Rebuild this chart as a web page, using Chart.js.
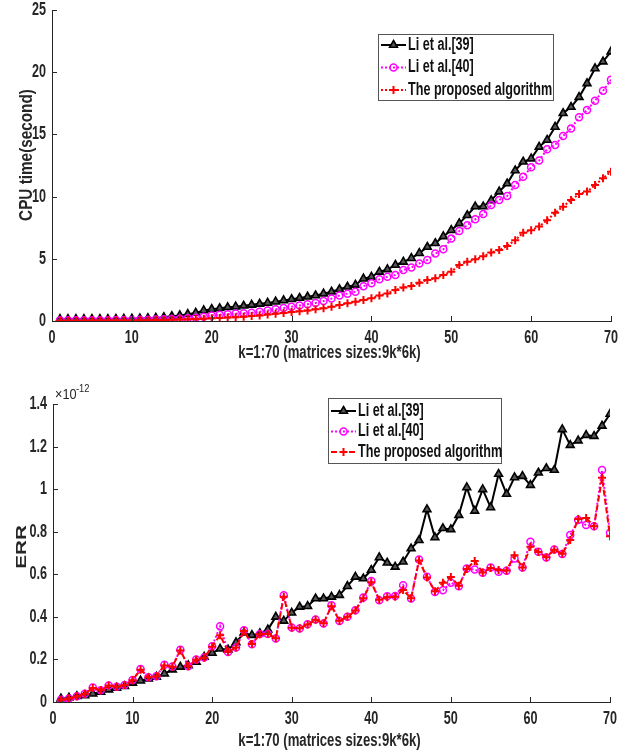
<!DOCTYPE html>
<html>
<head>
<meta charset="utf-8">
<script src="https://cdn.jsdelivr.net/npm/chart.js@4.4.1/dist/chart.umd.min.js"></script>
<style>
    html, body { margin: 0; padding: 0; background: #fff; }
    #wrap { position: relative; width: 638px; height: 753px; overflow: hidden; }
    canvas { position: absolute; left: 0; }
</style>
</head>
<body>
<div id="wrap">
    <canvas id="cpuChart" width="638" height="372" style="top:0px"></canvas>
    <canvas id="errChart" width="638" height="381" style="top:372px"></canvas>
</div>
<script>
// k = 1..70
const kValues = Array.from({ length: 70 }, (_, i) => i + 1);
const xTicks = [0, 10, 20, 30, 40, 50, 60, 70];
const cpuTicks = [0, 5, 10, 15, 20, 25];
const errTicks = [0, 0.2, 0.4, 0.6, 0.8, 1, 1.2, 1.4];
const seriesNames = ['Li et al.[39]', 'Li et al.[40]', 'The proposed algorithm'];
const xTitle = 'k=1:70 (matrices sizes:9k*6k)';

// CPU time (second)
const cpuLi39 = [
    0.15, 0.15, 0.15, 0.15, 0.15, 0.15, 0.15, 0.16, 0.17, 0.18,
    0.2, 0.22, 0.25, 0.3, 0.38, 0.45, 0.55, 0.65, 0.85, 0.95,
    1.02, 1.1, 1.15, 1.22, 1.3, 1.38, 1.45, 1.55, 1.65, 1.75,
    1.85, 1.95, 2.05, 2.2, 2.35, 2.55, 2.75, 2.9, 3.4, 3.55,
    3.95, 4.15, 4.5, 4.75, 5.05, 5.45, 5.95, 6.25, 6.8, 7.3,
    7.85, 8.5, 9.2, 9.2, 9.7, 10.4, 11.05, 12.1, 12.8, 13.05,
    14.0, 14.55, 15.6, 16.7, 17.2, 18.0, 19.1, 20.3, 20.85, 21.65
];
const cpuLi40 = [
    0.06, 0.06, 0.06, 0.06, 0.07, 0.07, 0.07, 0.08, 0.08, 0.09,
    0.1, 0.11, 0.12, 0.14, 0.16, 0.18, 0.22, 0.26, 0.35, 0.45,
    0.5, 0.55, 0.6, 0.63, 0.67, 0.75, 0.85, 0.95, 1.05, 1.15,
    1.25, 1.35, 1.45, 1.6, 1.8, 2.05, 2.2, 2.35, 2.8, 3.03,
    3.35, 3.55, 3.7, 4.1, 4.3, 4.63, 4.9, 5.43, 5.76, 6.64,
    7.23, 7.7, 8.17, 8.6, 9.32, 9.73, 10.05, 10.93, 11.6, 12.35,
    12.9, 13.8, 14.15, 14.87, 15.48, 16.37, 16.96, 17.7, 18.5, 19.4
];
const cpuProposed = [
    0.03, 0.03, 0.03, 0.03, 0.04, 0.04, 0.04, 0.05, 0.05, 0.05,
    0.06, 0.07, 0.08, 0.09, 0.1, 0.12, 0.14, 0.16, 0.19, 0.22,
    0.25, 0.28, 0.31, 0.35, 0.4, 0.45, 0.52, 0.58, 0.65, 0.72,
    0.78, 0.85, 0.94, 1.02, 1.15, 1.29, 1.42, 1.55, 1.69, 1.82,
    2.04, 2.22, 2.5, 2.7, 2.81, 3.08, 3.3, 3.43, 3.7, 3.96,
    4.5, 4.77, 4.96, 5.2, 5.5, 5.7, 6.03, 6.5, 7.1, 7.3,
    7.6, 8.1, 8.7, 9.19, 9.73, 10.2, 10.4, 10.93, 11.47, 12.0
];

// ERR, in units of 1e-12
const errLi39 = [
    0.016, 0.02, 0.027, 0.031, 0.039, 0.047, 0.058, 0.066, 0.074, 0.09,
    0.1, 0.11, 0.118, 0.133, 0.152, 0.165, 0.172, 0.188, 0.212, 0.23,
    0.25, 0.246, 0.28, 0.325, 0.314, 0.322, 0.34, 0.4, 0.381, 0.419,
    0.447, 0.45, 0.486, 0.486, 0.494, 0.502, 0.544, 0.588, 0.58, 0.62,
    0.679, 0.654, 0.635, 0.659, 0.721, 0.76, 0.905, 0.773, 0.816, 0.811,
    0.878, 1.008, 0.898, 0.999, 0.914, 1.071, 0.977, 1.055, 1.061, 1.019,
    1.077, 1.098, 1.09, 1.281, 1.207, 1.228, 1.254, 1.249, 1.297, 1.353
];
const errLi40 = [
    0.01, 0.016, 0.027, 0.039, 0.068, 0.055, 0.078, 0.072, 0.08, 0.103,
    0.155, 0.116, 0.121, 0.175, 0.167, 0.246, 0.168, 0.2, 0.209, 0.262,
    0.356, 0.235, 0.256, 0.337, 0.271, 0.32, 0.32, 0.298, 0.502, 0.35,
    0.345, 0.365, 0.388, 0.369, 0.455, 0.381, 0.4, 0.431, 0.491, 0.569,
    0.478, 0.497, 0.498, 0.549, 0.486, 0.67, 0.588, 0.517, 0.525, 0.56,
    0.544, 0.627, 0.622, 0.607, 0.632, 0.612, 0.617, 0.674, 0.632, 0.753,
    0.706, 0.679, 0.717, 0.695, 0.784, 0.855, 0.831, 0.826, 1.09, 0.795
];
const errProposed = [
    0.01, 0.016, 0.027, 0.039, 0.066, 0.055, 0.077, 0.072, 0.08, 0.102,
    0.152, 0.116, 0.121, 0.172, 0.166, 0.242, 0.168, 0.199, 0.208, 0.26,
    0.314, 0.236, 0.256, 0.333, 0.272, 0.318, 0.32, 0.299, 0.495, 0.349,
    0.346, 0.364, 0.386, 0.37, 0.45, 0.382, 0.4, 0.43, 0.488, 0.562,
    0.48, 0.492, 0.495, 0.526, 0.487, 0.665, 0.585, 0.52, 0.56, 0.587,
    0.546, 0.625, 0.663, 0.608, 0.63, 0.62, 0.618, 0.69, 0.632, 0.729,
    0.705, 0.68, 0.715, 0.696, 0.761, 0.86, 0.864, 0.826, 1.053, 0.779
];

const FONT = "'Liberation Sans', Arial, sans-serif";
const AXIS = '#262626';
const SQUISH = 0.7;   // the original figure text is very condensed

// draw text squeezed horizontally (rotated: len along the text, thick across it)
function narrowText(ctx, text, x, y, o) {
    ctx.save();
    ctx.translate(x, y);
    ctx.font = (o.weight || 'bold') + ' ' + o.size + 'px ' + FONT;
    ctx.fillStyle = o.color || AXIS;
    ctx.textAlign = o.align || 'center';
    ctx.textBaseline = 'middle';
    if (o.rotate) {
        ctx.rotate(-Math.PI / 2);
        ctx.scale(o.len || 1, o.thick || 1);
    } else {
        ctx.scale(o.sx || SQUISH, 1);
    }
    ctx.fillText(text, 0, 0);
    ctx.restore();
}

// MATLAB style axes: inward ticks, labels and titles
const matlabAxes = {
    id: 'matlabAxes',
    afterDraw(chart, args, opts) {
        const { ctx, chartArea: a, scales } = chart;
        ctx.save();
        ctx.strokeStyle = AXIS;
        ctx.lineWidth = 1;
        ctx.beginPath();
        scales.x.ticks.forEach(t => {
            const px = Math.round(scales.x.getPixelForValue(t.value)) + 0.5;
            ctx.moveTo(px, a.bottom);
            ctx.lineTo(px, a.bottom - 5);
        });
        scales.y.ticks.forEach(t => {
            const py = Math.round(scales.y.getPixelForValue(t.value)) + 0.5;
            ctx.moveTo(a.left, py);
            ctx.lineTo(a.left + 5, py);
        });
        ctx.stroke();
        ctx.restore();

        scales.x.ticks.forEach(t => {
            narrowText(ctx, String(t.value), scales.x.getPixelForValue(t.value), a.bottom + opts.xLabelGap, { size: 18 });
        });
        scales.y.ticks.forEach(t => {
            narrowText(ctx, String(t.value), a.left - 6, scales.y.getPixelForValue(t.value), { size: 18, align: 'right' });
        });
        narrowText(ctx, xTitle, (a.left + a.right) / 2 - 2, a.bottom + opts.xTitleGap, { size: 18, sx: 0.73 });
        narrowText(ctx, opts.yTitle, opts.yTitleX, opts.yTitleY, {
            size: 18, rotate: true, len: opts.yTitleLen, thick: opts.yTitleThick
        });
        if (opts.exponent) {
            narrowText(ctx, '\u00d710', a.left + 2, a.top - 9, { size: 15, weight: 'normal', align: 'left', sx: 0.85 });
            narrowText(ctx, '-12', a.left + 23, a.top - 15, { size: 11, weight: 'normal', align: 'left', sx: 0.85 });
        }
    }
};

// boxed legend drawn at a fixed place inside the axes
const boxLegend = {
    id: 'boxLegend',
    afterDraw(chart, args, opts) {
        const { ctx } = chart;
        const { x, y, w, h, rowH, firstRow } = opts;
        ctx.save();
        ctx.fillStyle = '#fff';
        ctx.fillRect(x, y, w, h);
        ctx.strokeStyle = '#555';
        ctx.lineWidth = 1;
        ctx.strokeRect(x + 0.5, y + 0.5, w, h);
        const sorted = [...chart.data.datasets].sort((p, q) => p.legendIndex - q.legendIndex);
        sorted.forEach((ds, i) => {
            const cy = y + firstRow + i * rowH;
            ctx.save();
            ctx.strokeStyle = ds.borderColor;
            ctx.lineWidth = ds.borderWidth;
            ctx.setLineDash(ds.borderDash || []);
            ctx.beginPath();
            ctx.moveTo(x + 3, cy);
            ctx.lineTo(x + 28, cy);
            ctx.stroke();
            ctx.setLineDash([]);
            ctx.fillStyle = ds.pointBackgroundColor;
            ctx.strokeStyle = ds.pointBorderColor;
            ctx.lineWidth = ds.pointBorderWidth;
            Chart.helpers.drawPoint(ctx, {
                pointStyle: ds.pointStyle, radius: ds.pointRadius,
                borderWidth: ds.pointBorderWidth, rotation: 0
            }, x + 15.5, cy);
            ctx.restore();
            narrowText(ctx, ds.label, x + 30, cy, { size: 18, align: 'left', color: '#111' });
        });
        ctx.restore();
    }
};

function lineDataset(label, data, style, legendIndex, order) {
    return Object.assign({
        label, data, legendIndex, order,
        fill: false, tension: 0, borderWidth: 2,
        pointHoverRadius: 0
    }, style);
}

const styleLi39 = {
    borderColor: '#000', pointStyle: 'triangle', pointRadius: 4.5,
    pointBorderColor: '#000', pointBackgroundColor: '#555', pointBorderWidth: 1.6
};
const styleLi40 = {
    borderColor: '#ff00ff', borderDash: [2, 2], pointStyle: 'circle', pointRadius: 3.5,
    pointBorderColor: '#ff00ff', pointBackgroundColor: 'rgba(255,255,255,0)', pointBorderWidth: 1.5
};
const styleProposedDot = {
    borderColor: '#ff0000', borderDash: [2, 2], pointStyle: 'cross', pointRadius: 4,
    pointBorderColor: '#ff0000', pointBackgroundColor: '#ff0000', pointBorderWidth: 2
};
const styleProposedDash = Object.assign({}, styleProposedDot, { borderDash: [6, 3] });

function makeChart(id, opts) {
    return new Chart(document.getElementById(id), {
        type: 'line',
        data: { labels: kValues, datasets: opts.datasets },
        plugins: [matlabAxes, boxLegend],
        options: {
            responsive: false,
            animation: false,
            events: [],
            layout: { padding: opts.padding },
            plugins: {
                legend: { display: false },
                tooltip: { enabled: false },
                boxLegend: opts.legend,
                matlabAxes: opts.axes
            },
            scales: {
                x: {
                    type: 'linear', min: 0, max: 70,
                    afterBuildTicks: s => { s.ticks = xTicks.map(v => ({ value: v })); },
                    afterFit: s => { s.height = opts.xHeight; },
                    grid: { drawOnChartArea: false, drawTicks: false },
                    border: { color: AXIS, width: 1 },
                    ticks: { display: false }
                },
                y: {
                    min: 0, max: opts.yMax,
                    afterBuildTicks: s => { s.ticks = opts.yTicks.map(v => ({ value: v })); },
                    afterFit: s => { s.width = opts.yWidth; },
                    grid: { drawOnChartArea: false, drawTicks: false },
                    border: { color: AXIS, width: 1 },
                    ticks: { display: false }
                }
            }
        }
    });
}

makeChart('cpuChart', {
    datasets: [
        lineDataset(seriesNames[2], cpuProposed, styleProposedDot, 2, 1),
        lineDataset(seriesNames[1], cpuLi40, styleLi40, 1, 2),
        lineDataset(seriesNames[0], cpuLi39, styleLi39, 0, 3)
    ],
    padding: { top: 10, right: 27, left: 0, bottom: 0 },
    xHeight: 51, yWidth: 52, yMax: 25, yTicks: cpuTicks,
    axes: {
        xLabelGap: 17, xTitleGap: 32, yTitle: 'CPU time(second)',
        yTitleX: 27, yTitleY: 155, yTitleLen: 0.85, yTitleThick: 1.0
    },
    legend: { x: 378, y: 34, w: 175, h: 66, rowH: 22.5, firstRow: 11 }
});

makeChart('errChart', {
    datasets: [
        lineDataset(seriesNames[2], errProposed, styleProposedDash, 2, 1),
        lineDataset(seriesNames[1], errLi40, styleLi40, 1, 2),
        lineDataset(seriesNames[0], errLi39, styleLi39, 0, 3)
    ],
    padding: { top: 32, right: 28, left: 0, bottom: 0 },
    xHeight: 51, yWidth: 53, yMax: 1.4, yTicks: errTicks,
    axes: {
        xLabelGap: 17, xTitleGap: 39, yTitle: 'ERR',
        yTitleX: 22, yTitleY: 175, yTitleLen: 1.15, yTitleThick: 0.85, exponent: true
    },
    legend: { x: 328, y: 26, w: 173, h: 65, rowH: 20.5, firstRow: 13 }
});
</script>
</body>
</html>
